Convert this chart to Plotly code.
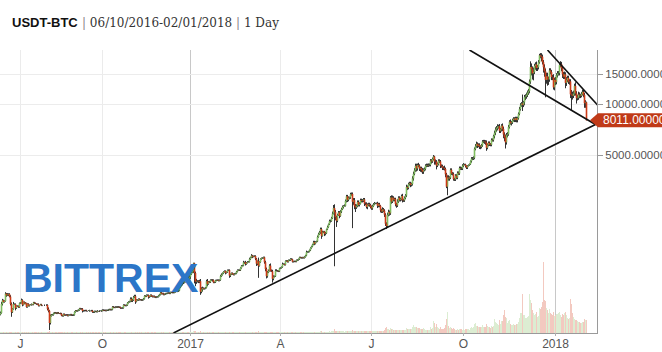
import numpy as np
import pandas as pd
import plotly.graph_objects as go

# ---------------- data ----------------
PAIR = "USDT-BTC"
START, END = "2016-06-10", "2018-02-01"
INTERVAL = "1 Day"
# days with no candle in the exchange history (axis is candle-indexed)
MISSING_DAYS = ["2016-07-10", "2016-07-11", "2016-07-12",
                "2016-08-20", "2016-08-21", "2016-08-22", "2016-08-23",
                "2016-08-24", "2016-08-25", "2016-08-26",
                "2016-11-08", "2016-11-09", "2016-11-10", "2016-11-11"]
dates = [d for d in pd.date_range(START, END) if d.strftime("%Y-%m-%d") not in MISSING_DAYS]

first_open = 574
close = [
    # 2016-06 (from 10th)
    577, 590, 666, 700, 685, 694, 766, 749, 757, 763, 736, 667, 596, 623, 665, 665, 630, 648, 647, 639, 673,
    # 2016-07
    677, 703, 659, 683, 670, 677, 640, 666, 650, 655, 658, 664, 661, 679, 673, 672, 665, 665, 651, 655,
    661, 654, 654, 655, 655, 656, 657, 624,
    # 2016-08
    607, 515, 567, 576, 575, 587, 592, 590, 587, 592, 589, 587, 585, 570, 567, 580, 573, 574, 575,
    569, 574, 574, 577, 573,
    # 2016-09
    572, 575, 598, 608, 606, 610, 614, 626, 623, 624, 606, 608, 609, 610, 607, 607, 606, 610, 609, 609,
    597, 596, 603, 602, 600, 607, 606, 604, 605, 609,
    # 2016-10
    614, 611, 612, 609, 612, 612, 617, 619, 616, 618, 641, 636, 636, 640, 638, 641, 639, 637, 630, 630,
    632, 657, 654, 652, 656, 677, 685, 689, 714, 698, 701,
    # 2016-11
    729, 740, 688, 704, 702, 712, 705, 705, 702, 706, 715, 743, 739, 751, 750, 731, 739, 751, 741, 735,
    740, 733, 729, 733, 735, 746,
    # 2016-12
    756, 777, 765, 768, 757, 761, 767, 769, 772, 774, 769, 780, 780, 777, 778, 784, 790, 790, 792, 800,
    834, 861, 917, 892, 890, 899, 926, 973, 971, 933, 964,
    # 2017-01
    998, 1021, 1043, 1154, 1013, 902, 909, 911, 902, 907, 786, 812, 826, 818, 822, 831, 907, 873, 901, 895,
    921, 924, 921, 892, 894, 916, 919, 921, 914, 921, 970,
    # 2017-02
    989, 1011, 1029, 1040, 1016, 1025, 1052, 1054, 979, 996, 1011, 999, 991, 1004, 1007, 1032, 1054, 1055,
    1052, 1085, 1118, 1121, 1172, 1172, 1145, 1165, 1179, 1180,
    # 2017-03
    1222, 1252, 1283, 1265, 1272, 1276, 1231, 1150, 1189, 1117, 1176, 1225, 1238, 1243, 1253, 1173, 1070,
    971, 1022, 1043, 1120, 1043, 1038, 937, 963, 970, 1045, 1044, 1041, 1037, 1079,
    # 2017-04
    1086, 1098, 1144, 1144, 1133, 1191, 1196, 1180, 1205, 1207, 1226, 1219, 1180, 1185, 1187, 1184, 1205,
    1210, 1222, 1252, 1248, 1243, 1250, 1245, 1261, 1285, 1346, 1348, 1355, 1380,
    # 2017-05
    1422, 1452, 1491, 1537, 1508, 1546, 1555, 1651, 1715, 1757, 1838, 1677, 1761, 1776, 1723, 1735, 1831,
    1888, 1962, 2047, 2049, 2128, 2262, 2448, 2314, 2159, 2056, 2219, 2300, 2193, 2330,
    # 2017-06
    2404, 2478, 2516, 2518, 2690, 2863, 2732, 2805, 2824, 2947, 2958, 2659, 2717, 2506, 2464, 2519, 2655,
    2548, 2589, 2721, 2689, 2705, 2745, 2590, 2589, 2478, 2553, 2574, 2539, 2480,
    # 2017-07
    2434, 2506, 2564, 2601, 2601, 2608, 2518, 2571, 2518, 2373, 2333, 2398, 2357, 2233, 1975, 1915, 2228,
    2319, 2273, 2818, 2668, 2810, 2730, 2754, 2576, 2529, 2671, 2809, 2726, 2758, 2876,
    # 2017-08
    2718, 2710, 2805, 2895, 3253, 3213, 3378, 3419, 3342, 3381, 3650, 3884, 4073, 4326, 4181, 4376, 4331,
    4160, 4194, 4088, 4001, 4100, 4151, 4334, 4371, 4352, 4382, 4383, 4649, 4597, 4748,
    # 2017-09
    4911, 4582, 4585, 4342, 4442, 4635, 4592, 4329, 4309, 4216, 4213, 4146, 3860, 3264, 3696, 3647, 3689,
    4101, 3900, 3880, 3612, 3599, 3788, 3686, 3936, 3903, 4203, 4175, 4171, 4338,
    # 2017-10
    4403, 4409, 4317, 4229, 4328, 4370, 4427, 4611, 4773, 4782, 4826, 5446, 5647, 5831, 5679, 5754, 5605,
    5590, 5708, 6011, 6031, 6008, 5930, 5526, 5750, 5905, 5780, 5754, 6153, 6130, 6468,
    # 2017-11
    6767, 7078, 7207, 7379, 7407, 6960, 7102, 7459, 7143, 6618, 6357, 5950, 6559, 6635, 7315, 7871, 7708,
    7790, 8036, 8200, 8071, 8253, 8038, 8253, 8753, 9330, 9819, 10058, 9888, 10233,
    # 2017-12
    10975, 11075, 11323, 11657, 11916, 13541, 16501, 16007, 15142, 15455, 16733, 17083, 16287, 16467,
    17604, 19345, 19140, 18960, 17608, 16455, 15561, 13857, 14548, 13926, 13926, 15752, 15416, 14398,
    14392, 12531, 13850,
    # 2018-01
    13444, 14754, 15156, 15180, 16954, 17172, 16228, 14977, 14468, 14919, 13308, 13842, 14244, 13524,
    13582, 11404, 11255, 11175, 11521, 12783, 11550, 10816, 10904, 11359, 11259, 11171, 11440, 11787,
    11297, 10106, 10221,
    # 2018-02
    8011,
]
# upper / lower wick beyond the candle body, in % of price
wick_hi_pct = [
    1, 2, 3, 2, 1, 1, 2, 1, 2, 1, 1, 2, 2, 1, 3, 1, 1, 1, 1, 1, 1,
    1, 2, 1, 1, 1, 1, 0, 1, 1, 1, 1, 1, 0, 1, 1, 1, 0, 1, 1, 0, 1, 1, 0, 0, 1, 0, 1, 1,
    2, 1, 2, 1, 1, 1, 1, 1, 1, 1, 1, 0, 1, 1, 1, 1, 1, 1, 1, 1, 1, 1, 1, 1,
    1, 1, 1, 1, 1, 1, 1, 1, 1, 1, 1, 1, 1, 1, 1, 0, 1, 1, 0, 1, 1, 1, 1, 1, 1, 1, 0, 1, 1, 1,
    1, 1, 1, 1, 1, 1, 1, 1, 1, 1, 1, 1, 1, 1, 1, 1, 1, 1, 1, 1, 1, 1, 1, 1, 1, 1, 1, 1, 2, 2, 2,
    2, 2, 2, 1, 1, 1, 1, 1, 1, 1, 1, 1, 1, 1, 1, 1, 1, 1, 1, 1, 1, 1, 1, 1, 1, 1,
    1, 1, 1, 1, 1, 1, 1, 1, 1, 1, 1, 1, 1, 1, 1, 1, 1, 1, 1, 1, 2, 2, 3, 2, 1, 1, 2, 3, 2, 2, 2,
    2, 2, 2, 1, 1, 2, 3, 1, 1, 2, 3, 3, 2, 1, 1, 1, 2, 3, 1, 1, 1, 1, 1, 1, 1, 1, 1, 1, 1, 1, 2,
    2, 1, 1, 1, 1, 1, 1, 1, 1, 1, 1, 1, 1, 1, 1, 1, 1, 1, 1, 1, 1, 1, 2, 1, 2, 1, 1, 1,
    2, 1, 2, 1, 1, 1, 1, 1, 1, 5, 1, 1, 1, 1, 1, 1, 2, 2, 2, 2, 2, 3, 2, 2, 2, 1, 2, 2, 1, 1, 1,
    1, 1, 2, 1, 1, 1, 1, 1, 1, 1, 1, 1, 1, 1, 1, 1, 1, 1, 1, 1, 1, 1, 1, 1, 1, 1, 2, 1, 1, 1,
    1, 1, 1, 2, 2, 1, 1, 2, 2, 2, 2, 2, 2, 1, 1, 2, 1, 2, 1, 2, 2, 2, 3, 4, 5, 3, 2, 2, 2, 2, 2,
    2, 2, 1, 2, 2, 2, 2, 2, 1, 2, 2, 2, 3, 3, 3, 2, 2, 2, 2, 2, 2, 2, 2, 2, 2, 2, 2, 2, 2, 2,
    2, 2, 2, 2, 1, 1, 2, 2, 2, 1, 2, 3, 2, 2, 2, 2, 3, 3, 2, 2, 3, 3, 2, 2, 2, 2, 3, 2, 2, 2, 2,
    3, 2, 2, 2, 3, 2, 2, 2, 2, 2, 3, 3, 3, 3, 3, 2, 3, 2, 2, 2, 3, 2, 2, 2, 2, 2, 2, 2, 2, 2, 2,
    2, 1, 3, 2, 2, 2, 2, 2, 2, 2, 2, 3, 2, 2, 3, 3, 2, 2, 2, 2, 2, 2, 2, 2, 2, 2, 2, 2, 2, 2,
    2, 1, 1, 1, 1, 1, 1, 1, 2, 2, 2, 2, 3, 3, 2, 2, 2, 2, 2, 2, 2, 2, 2, 3, 2, 2, 2, 2, 2, 2, 2,
    3, 3, 3, 3, 2, 3, 2, 2, 3, 3, 3, 4, 3, 3, 3, 2, 3, 2, 2, 2, 2, 2, 2, 2, 2, 3, 3, 2, 13, 2,
    3, 3, 3, 3, 3, 3, 8, 5, 4, 6, 3, 3, 4, 3, 3, 2, 3, 4, 3, 3, 4, 4, 5, 5, 4, 3, 3, 3, 3, 4, 3,
    4, 3, 3, 3, 3, 4, 3, 3, 3, 4, 3, 4, 3, 3, 3, 3, 6, 5, 4, 3, 5, 3, 4, 4, 3, 2, 3, 3, 3, 3, 3,
    1,
]
wick_lo_pct = [
    1, 1, 1, 2, 1, 1, 1, 2, 1, 2, 1, 2, 6, 1, 1, 1, 3, 1, 1, 1, 1,
    1, 1, 2, 1, 1, 1, 1, 1, 1, 1, 0, 1, 1, 1, 1, 1, 1, 1, 1, 1, 0, 1, 1, 0, 1, 0, 1, 2,
    2, 9, 2, 1, 1, 1, 1, 1, 1, 1, 1, 1, 1, 1, 1, 1, 1, 1, 1, 1, 1, 1, 1, 1,
    1, 1, 1, 1, 1, 1, 1, 1, 1, 1, 2, 1, 1, 1, 1, 1, 0, 1, 1, 1, 1, 1, 1, 1, 1, 1, 1, 1, 0, 1,
    1, 1, 1, 1, 1, 1, 1, 1, 1, 1, 1, 1, 1, 1, 1, 1, 1, 1, 1, 1, 1, 1, 1, 1, 1, 1, 1, 1, 1, 2, 2,
    1, 1, 3, 1, 1, 1, 1, 1, 1, 1, 1, 1, 1, 1, 1, 2, 1, 1, 1, 1, 1, 1, 1, 1, 1, 1,
    1, 1, 1, 1, 1, 1, 1, 1, 1, 1, 1, 1, 1, 1, 1, 1, 1, 1, 1, 1, 1, 1, 2, 4, 2, 1, 1, 1, 3, 4, 1,
    3, 1, 1, 3, 13, 6, 3, 2, 2, 2, 4, 2, 3, 1, 1, 1, 1, 3, 1, 1, 1, 1, 2, 1, 1, 1, 1, 1, 1, 1, 1,
    1, 1, 1, 1, 2, 1, 1, 1, 3, 2, 1, 1, 1, 1, 1, 1, 1, 1, 1, 1, 1, 1, 1, 2, 2, 1, 1, 1,
    1, 1, 1, 2, 1, 1, 2, 3, 2, 15, 1, 1, 1, 1, 1, 2, 3, 3, 2, 1, 1, 1, 1, 5, 2, 1, 1, 1, 1, 1, 1,
    1, 1, 1, 1, 1, 1, 1, 1, 1, 1, 1, 1, 1, 1, 1, 1, 1, 1, 1, 1, 1, 1, 1, 1, 1, 1, 1, 1, 1, 1,
    1, 1, 1, 1, 2, 1, 1, 1, 1, 1, 2, 4, 1, 1, 3, 2, 1, 1, 1, 1, 2, 1, 1, 1, 52, 4, 8, 2, 1, 3, 1,
    2, 1, 2, 1, 1, 2, 3, 2, 2, 2, 2, 30, 4, 4, 6, 2, 2, 2, 2, 1, 2, 2, 2, 3, 2, 2, 3, 2, 2, 2,
    2, 2, 1, 1, 1, 1, 3, 2, 2, 3, 2, 2, 2, 3, 3, 4, 2, 2, 3, 2, 3, 2, 2, 2, 3, 3, 2, 2, 2, 2, 2,
    3, 2, 2, 2, 2, 3, 2, 2, 3, 2, 2, 3, 2, 2, 4, 3, 2, 3, 4, 3, 3, 3, 2, 2, 2, 2, 2, 2, 2, 3, 2,
    2, 4, 4, 5, 2, 2, 2, 3, 2, 3, 3, 2, 4, 2, 11, 3, 3, 2, 2, 2, 2, 2, 2, 2, 2, 2, 2, 2, 2, 2,
    2, 1, 2, 2, 2, 1, 1, 1, 2, 2, 2, 2, 2, 2, 3, 2, 3, 3, 2, 2, 2, 3, 3, 4, 2, 2, 2, 2, 2, 2, 2,
    3, 3, 3, 3, 3, 3, 3, 3, 3, 5, 5, 8, 3, 3, 2, 2, 2, 3, 2, 2, 3, 3, 3, 3, 2, 2, 2, 2, 8, 3,
    4, 4, 3, 3, 3, 3, 3, 8, 8, 9, 3, 5, 4, 4, 3, 2, 3, 6, 3, 7, 7, 21, 5, 8, 7, 3, 3, 4, 4, 3, 4,
    4, 3, 3, 3, 3, 3, 4, 5, 3, 3, 7, 4, 3, 3, 4, 5, 18, 5, 3, 3, 3, 7, 3, 3, 4, 3, 2, 2, 3, 6, 6,
    0,
]
volume = [  # BTC
    30, 40, 60, 80, 50, 40, 90, 70, 60, 50, 60, 80, 100, 50, 40, 40, 60, 30, 30, 30, 40,
    30, 40, 40, 30, 30, 20, 40, 30, 20, 20, 20, 20, 20, 30, 20, 20, 20, 20, 30, 20, 20, 20, 20, 20, 20, 20, 20, 50,
    60, 160, 70, 40, 30, 30, 20, 20, 20, 20, 20, 20, 20, 30, 30, 20, 20, 20, 20, 20, 20, 20, 20, 20,
    20, 20, 40, 40, 30, 20, 20, 30, 20, 20, 30, 20, 20, 20, 20, 20, 20, 20, 20, 20, 30, 20, 20, 20, 20, 20, 20, 20, 20, 20,
    20, 20, 20, 20, 20, 20, 20, 20, 20, 20, 40, 30, 20, 20, 20, 20, 20, 20, 20, 20, 20, 40, 30, 20, 20, 40, 40, 30, 50, 40, 30,
    50, 40, 60, 40, 30, 30, 30, 30, 30, 30, 30, 40, 30, 30, 30, 30, 30, 30, 30, 30, 30, 30, 30, 30, 30, 30,
    40, 40, 30, 30, 30, 30, 30, 30, 30, 30, 30, 30, 30, 30, 30, 30, 30, 30, 30, 40, 60, 60, 80, 70, 50, 40, 50, 70, 60, 70, 60,
    60, 60, 80, 120, 150, 120, 70, 40, 40, 40, 110, 80, 50, 40, 40, 40, 60, 60, 40, 40, 40, 40, 40, 40, 40, 40, 40, 40, 40, 40, 50,
    50, 40, 40, 40, 40, 40, 40, 40, 60, 40, 40, 40, 40, 40, 40, 40, 50, 40, 40, 40, 50, 40, 60, 50, 50, 40, 40, 40,
    60, 60, 70, 50, 40, 40, 50, 70, 60, 110, 60, 50, 40, 40, 40, 60, 90, 100, 60, 50, 60, 60, 40, 80, 60, 40, 50, 40, 40, 40, 50,
    50, 40, 50, 40, 40, 50, 40, 40, 40, 40, 40, 40, 40, 40, 40, 40, 40, 40, 40, 50, 40, 40, 40, 40, 40, 40, 60, 50, 40, 50,
    70, 60, 60, 70, 70, 60, 60, 80, 90, 90, 110, 130, 90, 80, 80, 70, 90, 90, 100, 110, 100, 120, 150, 200, 400, 250, 250, 180, 140, 130, 130,
    140, 130, 120, 100, 130, 180, 150, 140, 130, 150, 160, 300, 200, 230, 220, 160, 150, 140, 130, 140, 130, 120, 120, 140, 120, 150, 140, 120, 120, 130,
    160, 150, 170, 160, 140, 130, 180, 160, 160, 240, 250, 230, 220, 300, 480, 560, 420, 380, 300, 540, 380, 360, 300, 280, 340, 330, 280, 330, 280, 260, 290,
    330, 300, 330, 340, 520, 420, 430, 450, 420, 380, 560, 800, 620, 560, 620, 520, 500, 460, 430, 400, 380, 480, 360, 340, 320, 280, 260, 300, 600, 430, 460,
    1200, 1000, 600, 900, 650, 480, 420, 600, 420, 420, 450, 460, 800, 1400, 2100, 700, 480, 600, 500, 420, 480, 400, 350, 320, 400, 340, 420, 380, 360, 350,
    380, 320, 380, 420, 360, 380, 340, 480, 600, 520, 560, 900, 1000, 680, 700, 600, 600, 620, 560, 800, 620, 560, 600, 900, 700, 600, 560, 480, 700, 560, 720,
    1400, 1100, 1000, 900, 800, 1300, 900, 1200, 1200, 1800, 2300, 1600, 1500, 1000, 1200, 1300, 900, 800, 800, 900, 800, 800, 900, 900, 1100, 1500, 2000, 2000, 3900, 1800,
    1800, 1500, 1500, 1600, 1700, 3900, 3300, 3000, 2300, 2000, 1800, 1900, 2100, 1600, 1700, 2500, 2400, 2600, 3100, 7100, 3300, 3200, 2500, 2300, 2000, 2400, 2000, 1900, 1800, 2100, 1700,
    1800, 1900, 1900, 2000, 2100, 1800, 1600, 1900, 1800, 2000, 2100, 1800, 1500, 1400, 1500, 3400, 2900, 2000, 1600, 1400, 1300, 1300, 1200, 1100, 1100, 1000, 1000, 1100, 1100, 1400, 1300,
    1300,
]
PRICE_TICKS = [5000, 10000, 15000]
# hand-drawn trend lines: (date, price) endpoints
TREND_LINES = [
    (("2016-12-15", 450), ("2018-02-10", 7570)),
    (("2017-10-07", 20780), ("2018-02-10", 7570)),
    (("2017-12-24", 20780), ("2018-02-12", 9865)),
]

assert len(close) == len(dates) == len(wick_hi_pct) == len(wick_lo_pct) == len(volume), \
    (len(dates), len(close), len(wick_hi_pct), len(wick_lo_pct), len(volume))

# ---------------- derived ----------------
n = len(dates)
idx = list(range(n))
opens = [first_open] + close[:-1]
highs = [max(o, c) * (1 + h / 100) for o, c, h in zip(opens, close, wick_hi_pct)]
lows = [min(o, c) * (1 - l / 100) for o, c, l in zip(opens, close, wick_lo_pct)]
up = [c >= o for o, c in zip(opens, close)]

date_pos = {d.strftime("%Y-%m-%d"): i for i, d in enumerate(dates)}


def to_idx(s):
    if s in date_pos:
        return date_pos[s]
    return (n - 1) + (pd.Timestamp(s) - dates[-1]).days


def segs(sel, y0s, y1s):
    xs, ys = [], []
    for i in idx:
        if sel(i):
            xs += [i, i, None]
            ys += [y0s[i], y1s[i], None]
    return xs, ys


GREEN, RED, WICK = "#7fbd5e", "#cc3a17", "#333333"
Y_LOG = [2.653, 4.3176]
X_RANGE = [0.5, 597.5]
PH = 283.0
PW = 597.0

fig = go.Figure()

# volume (base axis, behind)
fig.add_trace(go.Bar(
    x=idx, y=volume, width=0.8,
    marker=dict(color=["#dcedd2" if u else "#f3c9c0" for u in up], line=dict(width=0)),
    yaxis="y", hoverinfo="skip"))

# wicks
wx, wy = segs(lambda i: True, lows, highs)
fig.add_trace(go.Scatter(x=wx, y=wy, mode="lines", line=dict(color=WICK, width=1),
                         yaxis="y2", hoverinfo="skip"))
# bodies
bx, by = segs(lambda i: up[i], opens, close)
fig.add_trace(go.Scatter(x=bx, y=by, mode="lines", line=dict(color=GREEN, width=1.6),
                         yaxis="y2", hoverinfo="skip"))
bx, by = segs(lambda i: not up[i], opens, close)
fig.add_trace(go.Scatter(x=bx, y=by, mode="lines", line=dict(color=RED, width=1.6),
                         yaxis="y2", hoverinfo="skip"))

# trend lines
for (d0, p0), (d1, p1) in TREND_LINES:
    fig.add_trace(go.Scatter(x=[to_idx(d0), to_idx(d1)], y=[p0, p1], mode="lines",
                             line=dict(color="#111111", width=1.6), yaxis="y2", hoverinfo="skip"))

# quarter ticks / grid
tick_idx, tick_txt, tick_year = [], [], []
for i, d in enumerate(dates):
    if d.day == 1 and d.month in (1, 4, 7, 10):
        tick_idx.append(i)
        tick_txt.append(str(d.year) if d.month == 1 else d.strftime("%b")[0])
        tick_year.append(d.month == 1)

shapes = []
for i, yr in zip(tick_idx, tick_year):
    shapes.append(dict(type="line", xref="x", yref="paper", x0=i, x1=i, y0=0, y1=1,
                       line=dict(color="#c8c8c8" if yr else "#ebebeb", width=1), layer="below"))
    # small tick mark below the axis
    shapes.append(dict(type="line", xref="x", yref="paper", x0=i, x1=i, y0=0, y1=-3 / PH,
                       line=dict(color="#b0b0b0", width=1), layer="above"))

# last price marker
last = close[-1]
y_last = (np.log10(last) - Y_LOG[0]) / (Y_LOG[1] - Y_LOG[0])
shapes.append(dict(type="path", xref="paper", yref="paper", xsizemode="pixel", ysizemode="pixel",
                   xanchor=1, yanchor=y_last, path="M -7,0 L 1,7 L 90,7 L 90,-7 L 1,-7 Z",
                   fillcolor="#c03a18", line=dict(width=0), layer="above"))

annotations = [
    dict(text="<b>%s</b>" % PAIR, xref="paper", yref="paper", x=10 / PW, y=1 + 27 / PH,
         xanchor="left", yanchor="middle", showarrow=False,
         font=dict(family="Liberation Sans, Arial", size=13, color="#111111")),
    dict(text="<span style='color:#888'>|</span> %s-%s <span style='color:#888'>|</span> %s" % (
        pd.Timestamp(START).strftime("%m/%d/%Y"), pd.Timestamp(END).strftime("%m/%d/%Y"), INTERVAL),
         xref="paper", yref="paper", x=80 / PW, y=1 + 27 / PH,
         xanchor="left", yanchor="middle", showarrow=False,
         font=dict(family="DejaVu Serif, Georgia, serif", size=12, color="#333333")),
    dict(text="<b>BITTREX</b>", xref="paper", yref="paper", x=110 / PW, y=(333 - 278) / PH,
         xanchor="center", yanchor="middle", showarrow=False,
         font=dict(family="Liberation Sans, Arial", size=41, color="#2c76c8")),
    dict(text="%.6f" % last, xref="paper", yref="paper", x=1, xshift=4, y=y_last,
         xanchor="left", yanchor="middle", showarrow=False,
         font=dict(family="Liberation Sans, Arial", size=12, color="#ffffff")),
]

fig.update_layout(
    width=662, height=352,
    margin=dict(l=0, r=65, t=50, b=19, pad=0, autoexpand=False),
    paper_bgcolor="#ffffff", plot_bgcolor="#ffffff",
    showlegend=False, bargap=0,
    xaxis=dict(range=X_RANGE, tickvals=tick_idx, ticktext=tick_txt, showgrid=False, zeroline=False,
               automargin=False,
               showline=True, linecolor="#9a9a9a", linewidth=1, ticks="",
               tickfont=dict(family="Liberation Sans, Arial", size=12, color="#555555")),
    yaxis=dict(range=[0, max(volume) * 283 / 71], visible=False, showgrid=False, fixedrange=True,
               automargin=False),
    yaxis2=dict(type="log", range=Y_LOG, overlaying="y", side="right", tickvals=PRICE_TICKS,
                ticktext=["%.6f" % v for v in PRICE_TICKS], showgrid=True, gridcolor="#ececec",
                automargin=False,
                zeroline=False, showline=True, linecolor="#9a9a9a", linewidth=1, ticks="outside",
                ticklen=5, tickcolor="#9a9a9a",
                tickfont=dict(family="Liberation Sans, Arial", size=11.5, color="#555555")),
    shapes=shapes, annotations=annotations,
)

fig.write_html("out.html")
